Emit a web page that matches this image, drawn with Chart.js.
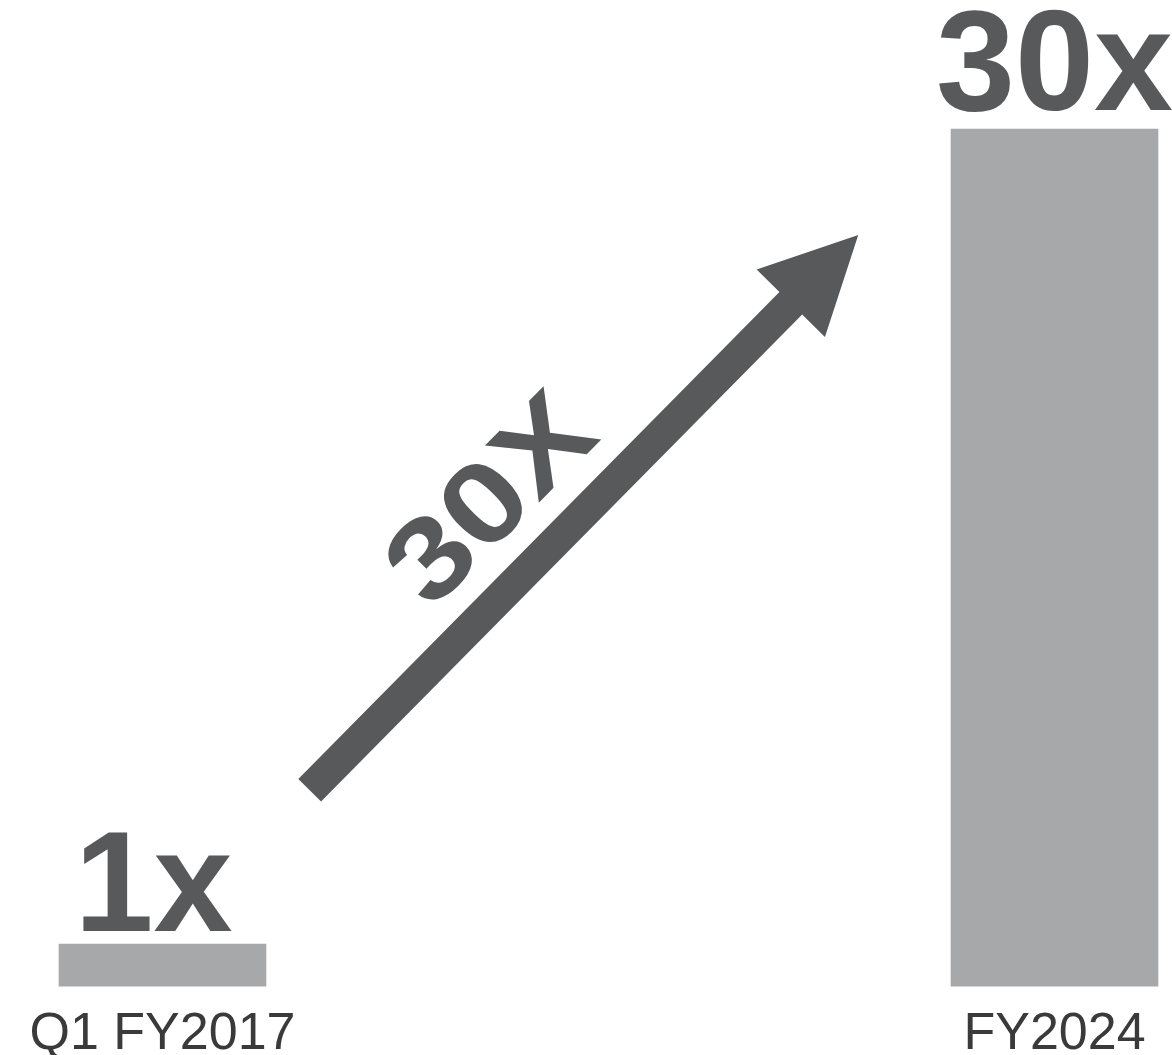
<!DOCTYPE html>
<html>
<head>
<meta charset="utf-8">
<style>
  html, body { margin: 0; padding: 0; background: #fff; }
  #wrap { width: 1172px; height: 1055px; }
</style>
</head>
<body>
<div id="wrap"><canvas id="growthChart"></canvas></div>

<script src="https://cdn.jsdelivr.net/npm/chart.js"></script>
<script>
const categories = ['Q1 FY2017', 'FY2024'];
const values = [1, 30];
const valueLabels = ['1x', '30x'];

// arrow + its rotated caption, in chart data units (x = category index, y = value)
const arrowFrom = [0.165, 6.47];
const arrowTo = [0.78, 26.23];
const arrowText = '30X';
const arrowTextPos = [0.365, 16.9];

const barColor = '#a7a8aa';
const darkGray = '#58595b';
const fontFamily = '"Liberation Sans", Arial, Helvetica, sans-serif';

const annotate = {
  id: 'annotate',
  afterDatasetsDraw(chart) {
    const ctx = chart.ctx;
    const x = chart.scales.x;
    const y = chart.scales.y;
    const bars = chart.getDatasetMeta(0).data;

    ctx.save();
    ctx.fillStyle = darkGray;

    // big value labels above bars (small nudges to sit like the original)
    const shiftX = [-9, 0];
    const gap = [13, 19];
    ctx.font = 'bold 142px ' + fontFamily;
    ctx.textAlign = 'center';
    ctx.textBaseline = 'alphabetic';
    bars.forEach((bar, i) => {
      ctx.fillText(valueLabels[i], bar.x + shiftX[i], bar.y - gap[i]);
    });

    // arrow
    const x0 = x.getPixelForValue(arrowFrom[0]);
    const y0 = y.getPixelForValue(arrowFrom[1]);
    const x1 = x.getPixelForValue(arrowTo[0]);
    const y1 = y.getPixelForValue(arrowTo[1]);
    const angle = Math.atan2(y1 - y0, x1 - x0);
    const len = Math.hypot(x1 - x0, y1 - y0);
    const sw = 16, hl = 96, hw = 48;

    ctx.save();
    ctx.translate(x0, y0);
    ctx.rotate(angle);
    ctx.beginPath();
    ctx.moveTo(0, -sw);
    ctx.lineTo(len - hl, -sw);
    ctx.lineTo(len - hl, -hw);
    ctx.lineTo(len, 0);
    ctx.lineTo(len - hl, hw);
    ctx.lineTo(len - hl, sw);
    ctx.lineTo(0, sw);
    ctx.closePath();
    ctx.fill();
    ctx.restore();

    // rotated caption
    const tx = x.getPixelForValue(arrowTextPos[0]);
    const ty = y.getPixelForValue(arrowTextPos[1]);
    ctx.save();
    ctx.translate(tx, ty);
    ctx.rotate(angle);
    ctx.scale(1.2, 1);
    ctx.font = 'bold 114px ' + fontFamily;
    ctx.textAlign = 'left';
    const spacing = 0;
    const chars = arrowText.split('');
    const widths = chars.map(c => ctx.measureText(c).width);
    const total = widths.reduce((a, b) => a + b, 0) + spacing * (chars.length - 1);
    let cx = -total / 2;
    chars.forEach((c, i) => {
      ctx.fillText(c, cx, 40);
      cx += widths[i] + spacing;
    });
    ctx.restore();

    ctx.restore();
  }
};

new Chart(document.getElementById('growthChart'), {
  type: 'bar',
  data: {
    labels: categories,
    datasets: [{
      data: values,
      base: -0.5,
      backgroundColor: barColor,
      borderWidth: 0,
      barThickness: 207,
      clip: false
    }]
  },
  options: {
    responsive: true,
    maintainAspectRatio: false,
    animation: false,
    events: [],
    layout: {
      padding: { left: 162.5, right: 117.5, top: 129, bottom: -28 }
    },
    plugins: {
      legend: { display: false },
      tooltip: { enabled: false }
    },
    scales: {
      x: {
        offset: false,
        grid: { display: false, drawTicks: false },
        border: { display: false },
        ticks: {
          autoSkip: false,
          maxRotation: 0,
          padding: 25,
          color: '#3a3a3a',
          font: { family: fontFamily, size: 52, lineHeight: 0.9 }
        }
      },
      y: {
        display: false,
        min: -0.5,
        max: 30
      }
    }
  },
  plugins: [annotate]
});
</script>
</body>
</html>
